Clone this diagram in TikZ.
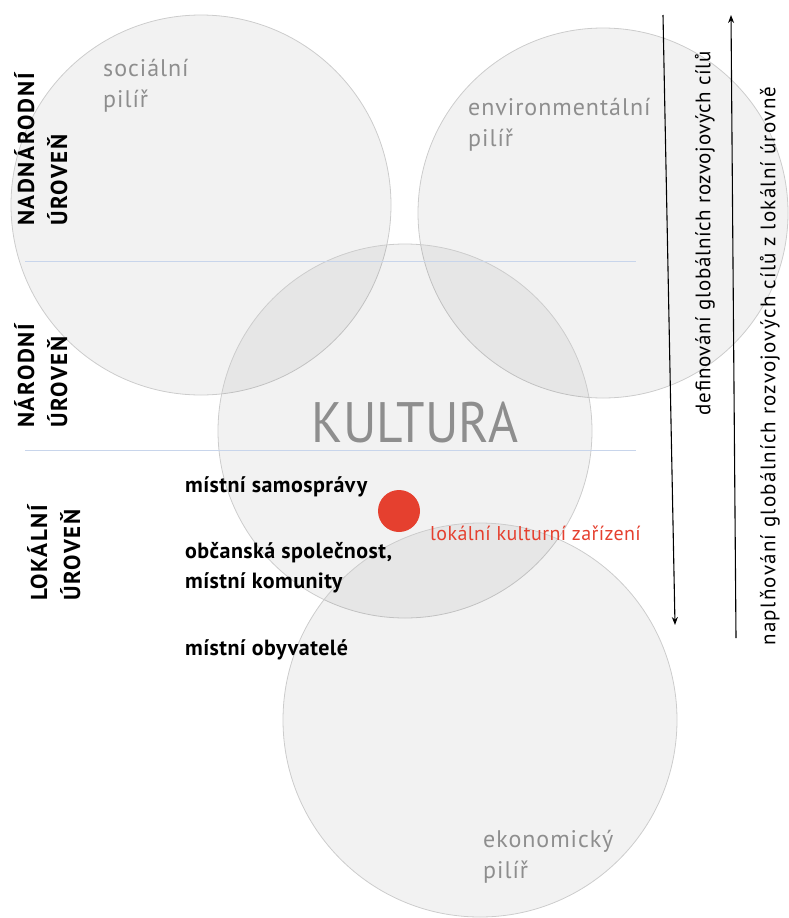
\documentclass[tikz,border=0pt]{standalone}
\usepackage{fontspec}
\setmainfont{PT Sans}
\newfontfamily\pilirfont[LetterSpace=4]{PT Sans}
\newfontfamily\urovenfont[LetterSpace=7]{PT Sans}
\newfontfamily\defont[LetterSpace=3]{PT Sans}
\newfontfamily\naplfont[LetterSpace=6]{PT Sans}
\newfontfamily\aktorfont[LetterSpace=2]{PT Sans}
\usetikzlibrary{arrows.meta}

\definecolor{kruh}{HTML}{CCCCCC}
\definecolor{hladina}{HTML}{C8D5EB}
\definecolor{cervena}{HTML}{E5402F}
\definecolor{seda}{HTML}{8E8E8E}

\tikzset{
  pilir/.style={draw=kruh, line width=.8pt, fill=black, fill opacity=.05},
  hranice/.style={draw=hladina, line width=.8pt},
  sipka/.style={line width=1.1pt, -{Stealth[length=8pt,width=6pt]}},
  popis/.style={inner sep=0, anchor=base west, align=left, text=seda,
    font=\pilirfont\fontsize{24}{31}\selectfont},
  aktor/.style={inner sep=0, anchor=base west, align=left,
    font=\aktorfont\bfseries\fontsize{22}{30}\selectfont},
  uroven/.style={inner sep=0, anchor=north west, align=left, rotate=90,
    font=\urovenfont\bfseries\fontsize{23}{33}\selectfont},
  proces/.style={inner sep=0, rotate=90}
}

\begin{document}
\begin{tikzpicture}[x=1pt,y=-1pt]
  \useasboundingbox (0,0) rectangle (789,918);

  % pilire
  \draw[pilir] (201,205) circle (190);
  \draw[pilir] (603,213) circle (185);
  \draw[pilir] (405,431) circle (187);
  \draw[pilir] (480,720) circle (197);

  % hranice urovni
  \coordinate (h1a) at (25,261);
  \coordinate (h1b) at (636,261);
  \coordinate (h2a) at (25,450);
  \coordinate (h2b) at (636,450);
  \draw[hranice] (h1a) -- (h1b);
  \draw[hranice] (h2a) -- (h2b);

  % popisky piliru (base = posledni radek)
  \node[popis] (soc) at (103,107) {sociální\\pilíř};
  \node[popis] (env) at (468,146) {environmentální\\pilíř};
  \node[popis] (eko) at (483,878) {ekonomický\\pilíř};

  \node[inner sep=0, anchor=base, text=seda, xscale=.9,
    font=\fontsize{57}{60}\selectfont] (kult) at (415,442) {KULTURA};

  % urovne
  \node[uroven] (nadnar) at (14,226) {NADNÁRODNÍ\\ÚROVEŇ};
  \node[uroven] (nar) at (14,428) {NÁRODNÍ\\ÚROVEŇ};
  \node[uroven] (lok) at (27,601) {LOKÁLNÍ\\ÚROVEŇ};

  % aktori
  \node[aktor] (sam) at (185,492) {místní samosprávy};
  \node[aktor] (obc) at (185,588) {občanská společnost,\\místní komunity};
  \node[aktor] (oby) at (185,655) {místní obyvatelé};

  \node[circle, fill=cervena, inner sep=0, minimum size=42pt] (zar) at (399,511) {};
  \node[inner sep=0, anchor=base west, text=cervena,
    font=\aktorfont\fontsize{20}{22}\selectfont] (zarlab) at (430,540) {lokální kulturní zařízení};

  % sipky
  \coordinate (d1) at (663,15);
  \coordinate (d2) at (675,625);
  \coordinate (n1) at (736,638);
  \coordinate (n2) at (731,15);
  \draw[sipka] (d1) -- (d2);
  \draw[sipka] (n1) -- (n2);

  \node[proces, font=\defont\fontsize{21}{22}\selectfont] (def) at (705,233)
    {definování globálních rozvojových cílů};
  \node[proces, font=\naplfont\fontsize{21}{22}\selectfont] (napl) at (770,366)
    {naplňování globálních rozvojových cílů z lokální úrovně};
\end{tikzpicture}
\end{document}
